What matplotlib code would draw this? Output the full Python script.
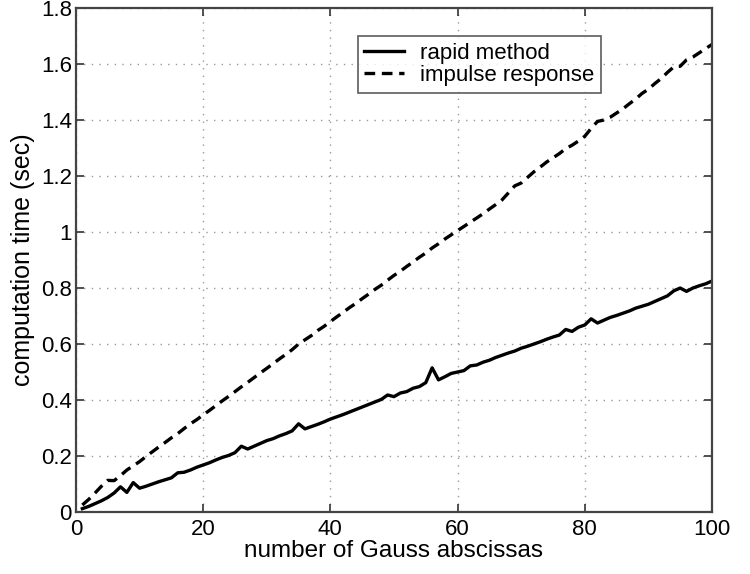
import matplotlib
matplotlib.use("Agg")
import matplotlib.pyplot as plt
import numpy as np

n_abscissas = list(range(1, 101))

rapid_method = [
    0.012, 0.020, 0.030, 0.040, 0.052, 0.068, 0.090, 0.070, 0.105, 0.085,
    0.092, 0.100, 0.108, 0.115, 0.122, 0.140, 0.142, 0.150, 0.160, 0.168,
    0.176, 0.186, 0.195, 0.202, 0.212, 0.235, 0.225, 0.235, 0.245, 0.255,
    0.262, 0.272, 0.280, 0.290, 0.315, 0.297, 0.305, 0.313, 0.322, 0.332,
    0.340, 0.348, 0.357, 0.366, 0.375, 0.384, 0.393, 0.402, 0.418, 0.412,
    0.425, 0.430, 0.442, 0.448, 0.462, 0.515, 0.472, 0.483, 0.495, 0.500,
    0.505, 0.522, 0.525, 0.535, 0.542, 0.552, 0.560, 0.568, 0.575, 0.585,
    0.592, 0.600, 0.608, 0.617, 0.625, 0.632, 0.652, 0.645, 0.660, 0.668,
    0.690, 0.675, 0.685, 0.695, 0.702, 0.710, 0.718, 0.728, 0.735, 0.742,
    0.752, 0.762, 0.772, 0.790, 0.800, 0.788, 0.800, 0.808, 0.815, 0.825,
]

impulse_response = [
    0.025, 0.045, 0.068, 0.092, 0.113, 0.112, 0.130, 0.150, 0.165, 0.180,
    0.198, 0.215, 0.232, 0.248, 0.265, 0.280, 0.298, 0.315, 0.330, 0.347,
    0.363, 0.380, 0.397, 0.413, 0.430, 0.447, 0.463, 0.480, 0.497, 0.513,
    0.530, 0.547, 0.563, 0.580, 0.600, 0.615, 0.630, 0.648, 0.663, 0.680,
    0.697, 0.713, 0.730, 0.745, 0.762, 0.778, 0.795, 0.810, 0.828, 0.845,
    0.860, 0.877, 0.893, 0.910, 0.925, 0.943, 0.958, 0.975, 0.990, 1.005,
    1.020, 1.035, 1.050, 1.065, 1.082, 1.098, 1.115, 1.140, 1.165, 1.175,
    1.195, 1.215, 1.232, 1.250, 1.265, 1.280, 1.298, 1.310, 1.325, 1.342,
    1.370, 1.395, 1.400, 1.410, 1.425, 1.440, 1.458, 1.475, 1.495, 1.510,
    1.530, 1.548, 1.570, 1.590, 1.592, 1.615, 1.625, 1.640, 1.655, 1.670,
]

x_ticks = [0, 20, 40, 60, 80, 100]
y_ticks = [0, 0.2, 0.4, 0.6, 0.8, 1.0, 1.2, 1.4, 1.6, 1.8]
y_tick_labels = ["0", "0.2", "0.4", "0.6", "0.8", "1", "1.2", "1.4", "1.6", "1.8"]

plt.rcParams['font.family'] = ['Liberation Sans', 'DejaVu Sans']

fig = plt.figure(figsize=(7.5, 5.74), dpi=100)
ax = fig.add_axes([0.1013, 0.108, 0.848, 0.878])

ax.plot(n_abscissas, rapid_method, color='black', lw=2.4, label='rapid method')
ax.plot(n_abscissas, impulse_response, color='black', lw=2.4, ls=(0, (3.2, 2.0)),
        label='impulse response')

ax.set_xlim(0, 100)
ax.set_ylim(0, 1.8)
ax.set_xticks(x_ticks)
ax.set_yticks(y_ticks)
ax.set_yticklabels(y_tick_labels)
ax.tick_params(direction='in', length=6, width=1.2, colors='#333333',
               labelcolor='black', labelsize=16,
               top=True, right=True)
ax.tick_params(axis='x', pad=5)
ax.tick_params(axis='y', pad=3)
ax.grid(True, ls=(0, (1, 4.5)), color='#999999', lw=1.0)
for s in ax.spines.values():
    s.set_color('#444444')
    s.set_linewidth(1.6)

ax.set_xlabel('number of Gauss abscissas', fontsize=17.5, labelpad=0)
ax.set_ylabel('computation time (sec)', fontsize=18, labelpad=4)

leg = ax.legend(loc='upper left', bbox_to_anchor=(0.443, 0.944), fontsize=16,
                frameon=True, fancybox=False, edgecolor='#333333',
                handlelength=1.8, handletextpad=0.7, borderpad=0.3,
                labelspacing=0.05, borderaxespad=0)
leg.get_frame().set_linewidth(1.2)

fig.savefig('out.png', dpi=100)
